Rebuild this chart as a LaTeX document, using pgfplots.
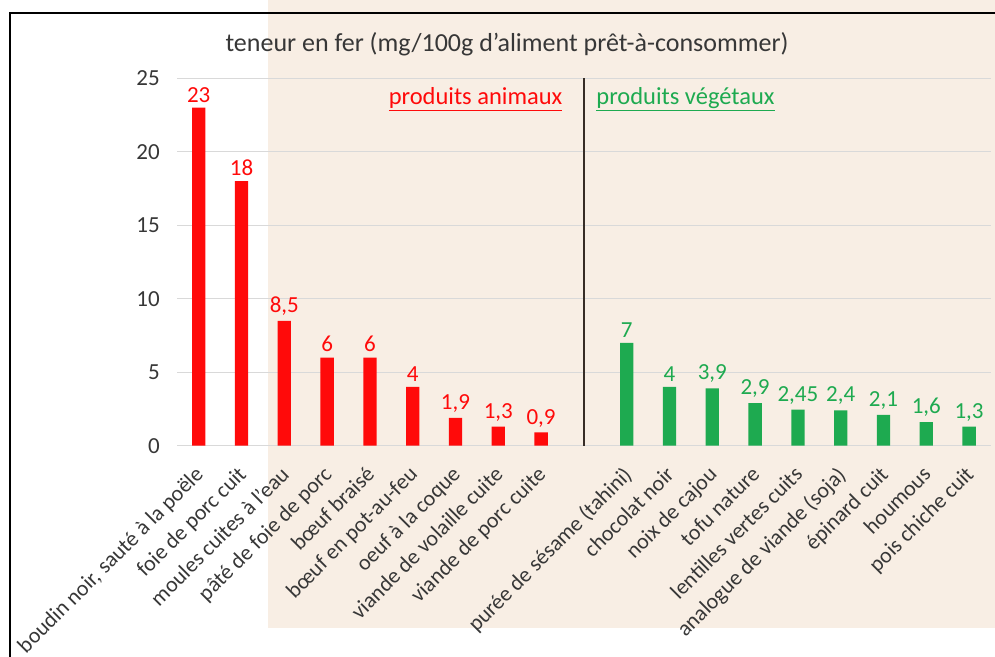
\documentclass[border=0pt]{standalone}
\usepackage{pgfplots}
\pgfplotsset{compat=1.18}
\usepackage{fontspec}
\setmainfont{Carlito}
\definecolor{beige}{RGB}{248,238,228}
\definecolor{myred}{RGB}{255,10,10}
\definecolor{mygreen}{RGB}{30,170,80}
\definecolor{txt}{RGB}{55,55,55}
\definecolor{gridc}{RGB}{217,217,217}
\definecolor{sep}{RGB}{55,45,38}
\begin{document}
\begin{tikzpicture}
\path[use as bounding box] (0,0) rectangle (995bp,657bp);
\fill[beige] (268bp,29bp) rectangle (995bp,657bp);
\begin{axis}[
  at={(177.3bp,211.3bp)}, anchor=south west,
  scale only axis, width=813.2bp, height=367.4bp,
  xmin=-0.5, xmax=18.5, ymin=0, ymax=25,
  ytick={0,5,10,15,20,25},
  xtick={0,1,2,3,4,5,6,7,8,10,11,12,13,14,15,16,17,18},
  xticklabels={{boudin noir, sauté à la poële},foie de porc cuit,moules cuites à l'eau,pâté de foie de porc,bœuf braisé,bœuf en pot-au-feu,oeuf à la coque,viande de volaille cuite,viande de porc cuite,purée de sésame (tahini),chocolat noir,noix de cajou,tofu nature,lentilles vertes cuits,analogue de viande (soja),épinard cuit,houmous,pois chiche cuit},
  axis line style={draw=none},
  major tick length=0pt,
  ymajorgrids, grid style={gridc, line width=1bp},
  /pgf/number format/assume math mode=true,
  yticklabel style={font=\fontsize{23bp}{26bp}\selectfont, text=txt, xshift=-14bp},
  xticklabel style={font=\fontsize{22bp}{25bp}\selectfont, text=txt, xshift=-5bp, yshift=-19bp, rotate=45, anchor=north east, inner sep=0pt},
  ybar, bar width=13.3bp,
  clip=false,
]
\addplot[fill=myred, draw=none, bar shift=0pt, point meta=explicit symbolic, nodes near coords,
  every node near coord/.append style={text=myred, font=\fontsize{23bp}{26bp}\selectfont, yshift=2bp}]
  coordinates {(0,23)[23] (1,18)[18] (2,8.5)[8,5] (3,6)[6] (4,6)[6] (5,4)[4] (6,1.9)[1,9] (7,1.3)[1,3] (8,0.9)[0,9]};
\addplot[fill=mygreen, draw=none, bar shift=0pt, point meta=explicit symbolic, nodes near coords,
  every node near coord/.append style={text=mygreen, font=\fontsize{23bp}{26bp}\selectfont, yshift=2bp}]
  coordinates {(10,7)[7] (11,4)[4] (12,3.9)[3,9] (13,2.9)[2,9] (14,2.45)[2,45] (15,2.4)[2,4] (16,2.1)[2,1] (17,1.6)[1,6] (18,1.3)[1,3]};
\addplot[sharp plot, draw=sep, line width=1.8bp, forget plot]
  coordinates {(9,0) (9,25)};
\node[anchor=east, text=myred, font=\fontsize{24.5bp}{27bp}\selectfont] at (axis cs:8.58,23.6) {\underline{produits animaux}};
\node[anchor=west, text=mygreen, font=\fontsize{24.5bp}{27bp}\selectfont] at (axis cs:9.21,23.6) {\underline{produits végétaux}};
\end{axis}
\node[text=txt, font=\fontsize{26bp}{29bp}\selectfont] at (507bp,613bp) {teneur en fer (mg/100g d'aliment prêt-à-consommer)};
\draw[line width=2bp, black] (10bp,-20bp) -- (10bp,644bp) -- (1010bp,644bp);
\end{tikzpicture}
\end{document}
